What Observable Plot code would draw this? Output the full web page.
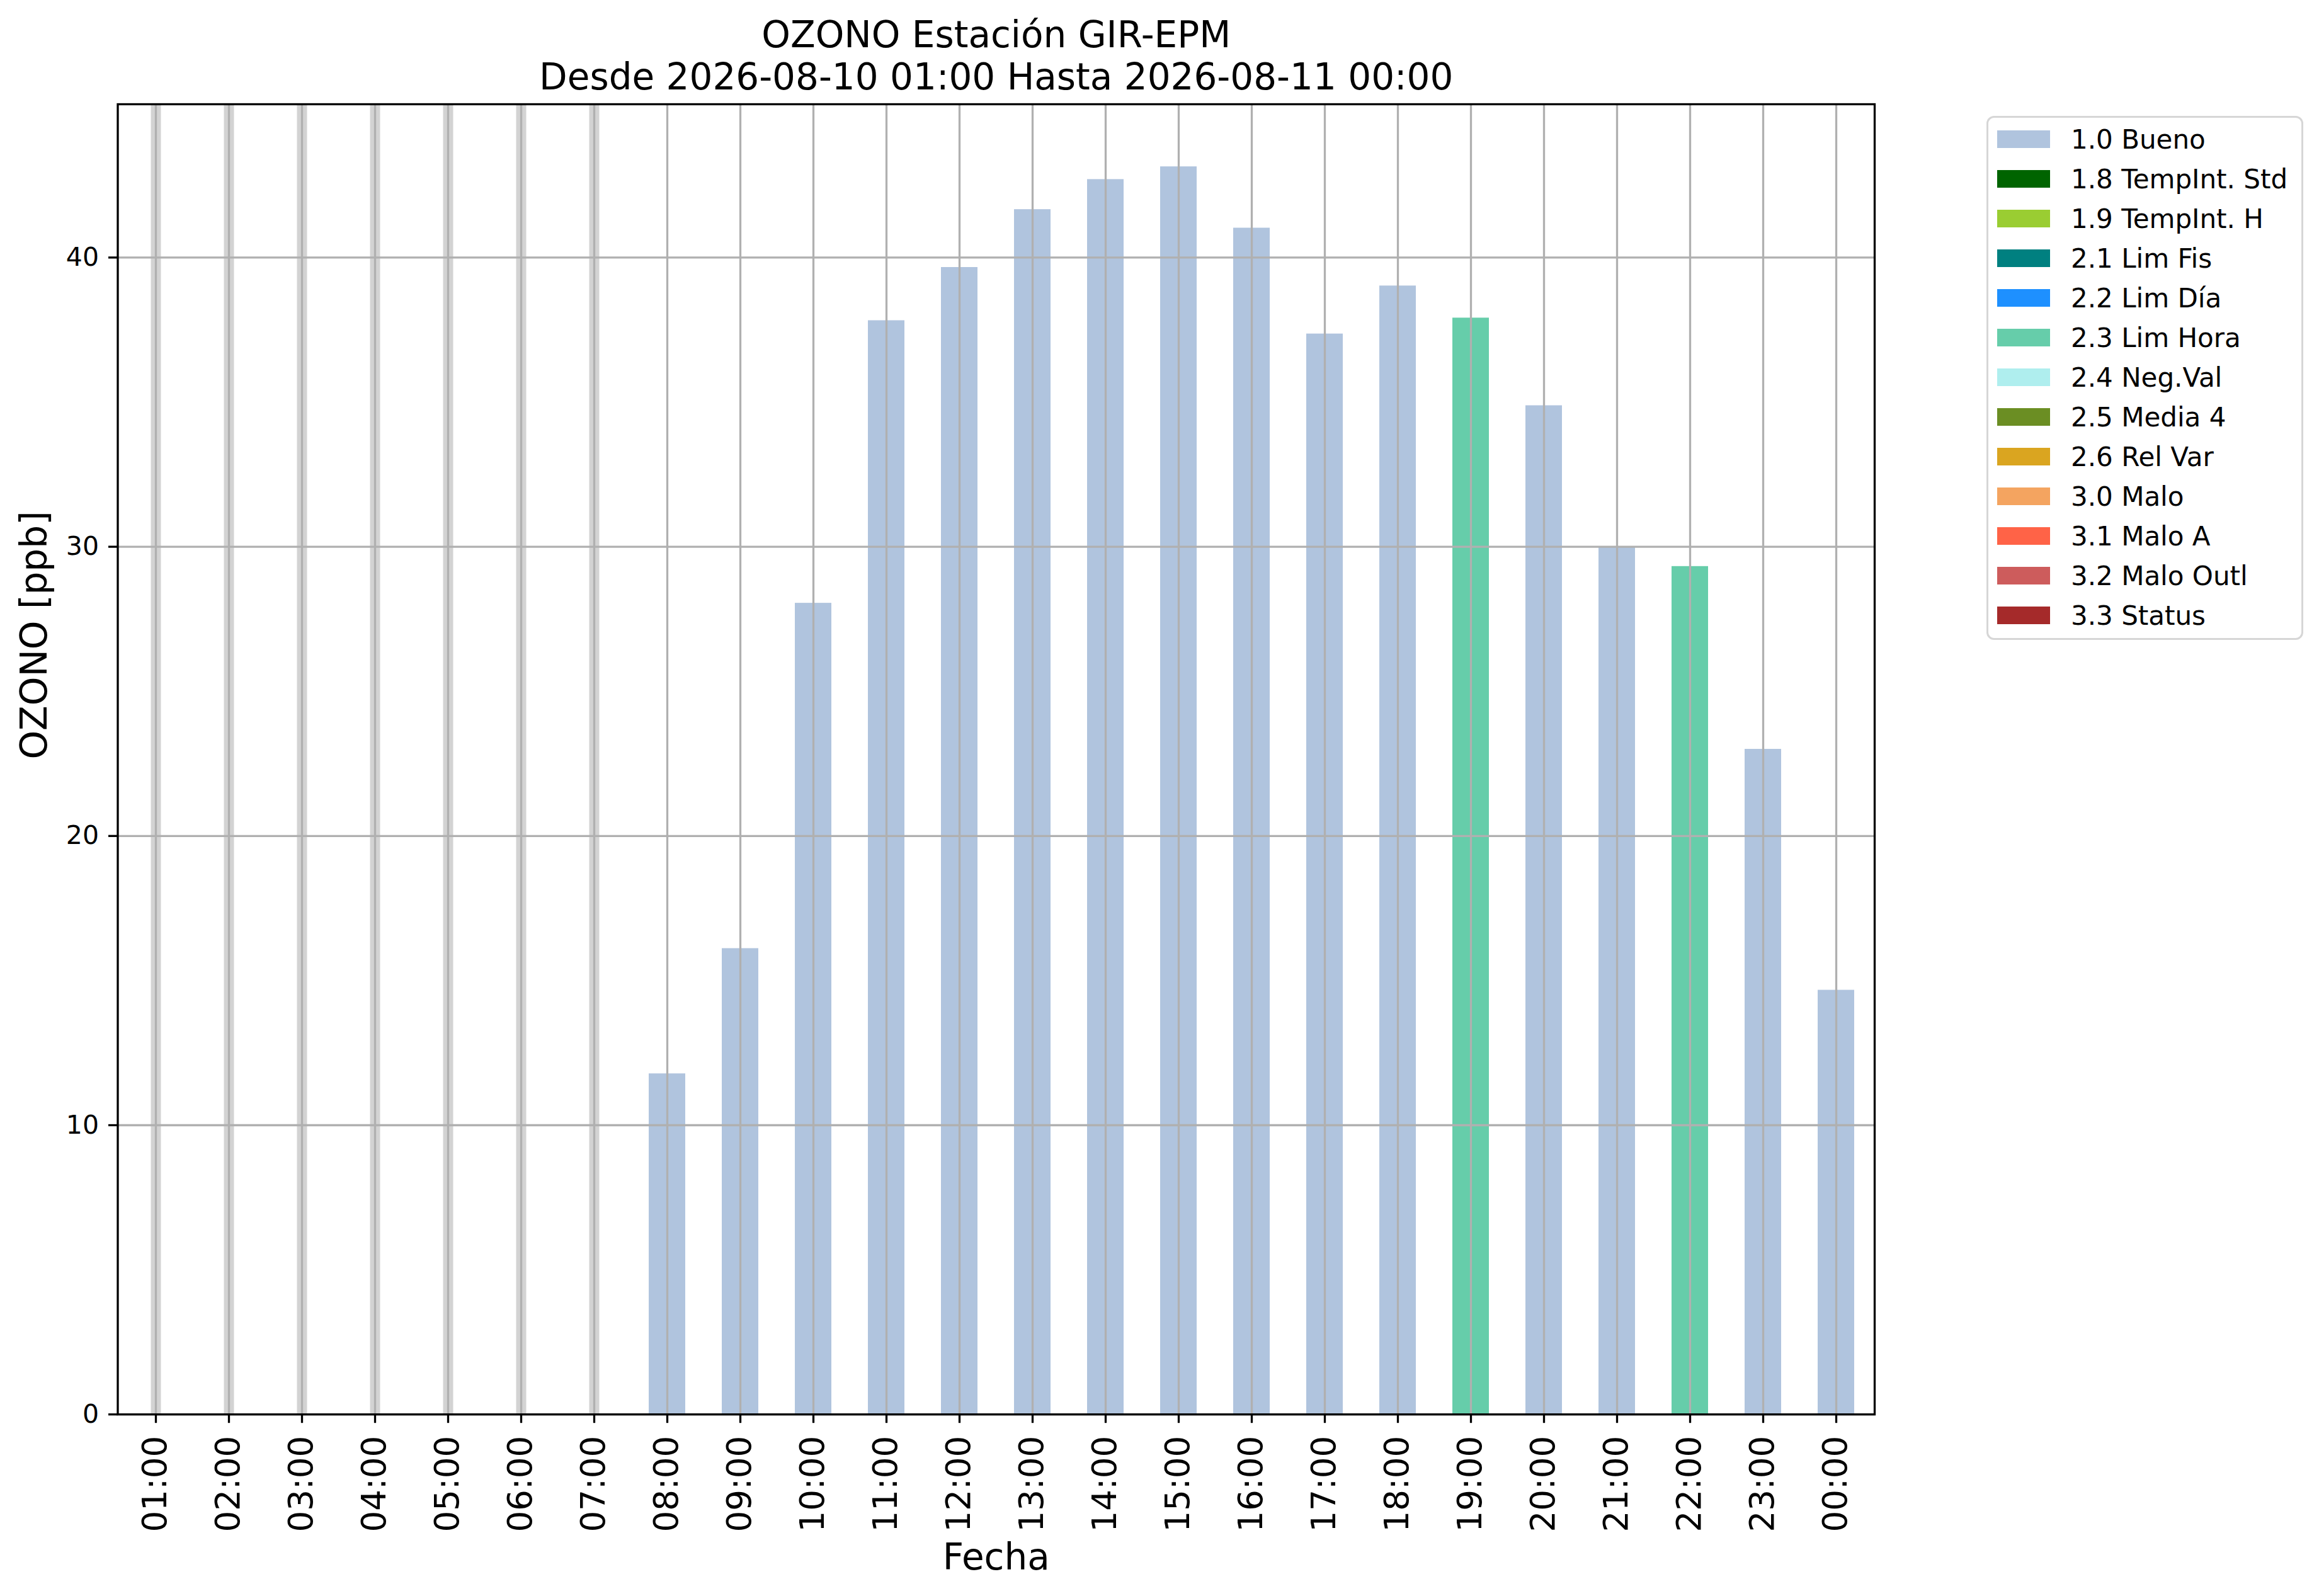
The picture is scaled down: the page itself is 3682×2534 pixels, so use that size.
<!DOCTYPE html>
<html>
<head>
<meta charset="utf-8">
<script src="https://cdn.jsdelivr.net/npm/d3@7"></script>
<script src="https://cdn.jsdelivr.net/npm/@observablehq/plot@0.6"></script>
<style>
  html, body { margin: 0; padding: 0; background: white; }
  #wrap { position: relative; width: 3682px; height: 2534px; font-family: "DejaVu Sans", sans-serif; }
  #chart { position: absolute; left: 0; top: 0; }
  .lg-box { position: absolute; box-sizing: border-box; border: 3px solid #d6d6d6; border-radius: 12px; background: white; }
  .lg-sw { position: absolute; }
  .lg-tx { position: absolute; font-size: 42px; line-height: 63px; height: 63px; white-space: nowrap; color: black; }
</style>
</head>
<body>
<div id="wrap"><div id="chart"></div></div>
<script>
// ---- data ----
const hours = ["01:00","02:00","03:00","04:00","05:00","06:00","07:00","08:00","09:00","10:00","11:00","12:00",
               "13:00","14:00","15:00","16:00","17:00","18:00","19:00","20:00","21:00","22:00","23:00","00:00"];
const ozone = [null, null, null, null, null, null, null, 11.78, 16.11, 28.05, 37.82, 39.66,
               41.66, 42.70, 43.14, 41.02, 37.36, 39.02, 37.91, 34.88, 30.0, 29.32, 23.0, 14.67];
const flags = [null, null, null, null, null, null, null, "1.0 Bueno", "1.0 Bueno", "1.0 Bueno", "1.0 Bueno", "1.0 Bueno",
               "1.0 Bueno", "1.0 Bueno", "1.0 Bueno", "1.0 Bueno", "1.0 Bueno", "1.0 Bueno", "2.3 Lim Hora", "1.0 Bueno",
               "1.0 Bueno", "2.3 Lim Hora", "1.0 Bueno", "1.0 Bueno"];
const flagLabels = ["1.0 Bueno","1.8 TempInt. Std","1.9 TempInt. H","2.1 Lim Fis","2.2 Lim Día","2.3 Lim Hora",
                    "2.4 Neg.Val","2.5 Media 4","2.6 Rel Var","3.0 Malo","3.1 Malo A","3.2 Malo Outl","3.3 Status"];
const flagColors = ["#b0c4de","#006400","#9acd32","#008080","#1e90ff","#66cdaa",
                    "#afeeee","#6b8e23","#daa520","#f4a460","#ff6347","#cd5c5c","#a52a2a"];
const yTicks = [0, 10, 20, 30, 40];
const titleLines = ["OZONO Estación GIR-EPM", "Desde 2026-08-10 01:00 Hasta 2026-08-11 00:00"];
const xLabel = ["Fecha"];
const yLabel = ["OZONO [ppb]"];

const data = hours.map((h, i) => ({hour: h, value: ozone[i], flag: flags[i]})).filter(d => d.value != null);
const missing = hours.filter((h, i) => ozone[i] == null);

const W = 3682, H = 2534;
const mL = 186.5, mR = W - 2976, mT = 165, mB = H - 2245.2;

const chart = Plot.plot({
  width: W, height: H,
  marginLeft: mL, marginRight: mR, marginTop: mT, marginBottom: mB,
  style: {fontFamily: "DejaVu Sans", background: "white", color: "black", overflow: "visible"},
  x: {type: "band", domain: hours, paddingInner: 0.5, paddingOuter: 0.25},
  y: {domain: [0, 45.3]},
  color: {type: "ordinal", domain: flagLabels, range: flagColors},
  marks: [
    Plot.ruleX(missing, {x: d => d, stroke: "#d3d3d3", strokeWidth: 16}),
    Plot.barY(data, {x: "hour", y: "value", fill: "flag"}),
    Plot.gridX({stroke: "#b0b0b0", strokeOpacity: 1, strokeWidth: 3.3}),
    Plot.gridY(yTicks, {stroke: "#b0b0b0", strokeOpacity: 1, strokeWidth: 3.3}),
    Plot.frame({stroke: "black", strokeWidth: 3.3}),
    Plot.axisX({tickRotate: -90, fontSize: 53, tickSize: 14, tickPadding: 20, strokeWidth: 3.3, label: null}),
    Plot.axisY(yTicks, {fontSize: 41, tickSize: 14.5, tickPadding: 15.5, strokeWidth: 3.3, label: null}),
    Plot.text([titleLines[0]], {frameAnchor: "top", lineAnchor: "middle", dy: -108.6, fontSize: 58, fill: "black"}),
    Plot.text([titleLines[1]], {frameAnchor: "top", lineAnchor: "middle", dy: -41.6, fontSize: 58, fill: "black"}),
    Plot.text(xLabel, {frameAnchor: "bottom", lineAnchor: "middle", dy: 228, fontSize: 58, fill: "black"}),
    Plot.text(yLabel, {frameAnchor: "left", lineAnchor: "middle", dx: -132, rotate: -90, fontSize: 58, fill: "black"})
  ]
});
document.getElementById("chart").appendChild(chart);

// ---- legend (right side) ----
const wrap = document.getElementById("wrap");
const box = document.createElement("div");
box.className = "lg-box";
Object.assign(box.style, {left: "3154px", top: "184px", width: "503px", height: "832px"});
wrap.appendChild(box);
flagLabels.forEach((lab, i) => {
  const cy = 221 + 63 * i;
  const sw = document.createElement("div");
  sw.className = "lg-sw";
  Object.assign(sw.style, {left: "3171px", top: (cy - 14) + "px", width: "84px", height: "28px", background: flagColors[i]});
  wrap.appendChild(sw);
  const tx = document.createElement("div");
  tx.className = "lg-tx";
  Object.assign(tx.style, {left: "3288px", top: (cy - 31.5) + "px"});
  tx.textContent = lab;
  wrap.appendChild(tx);
});
</script>
</body>
</html>
